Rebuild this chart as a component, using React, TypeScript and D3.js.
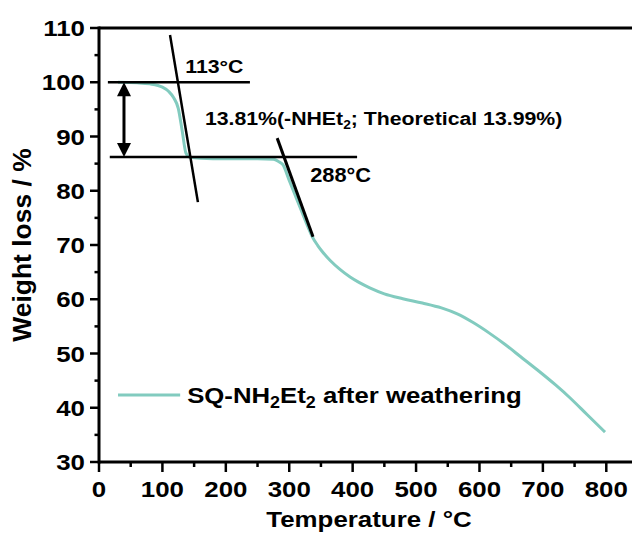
import React from 'react';
import * as d3 from 'd3';

// TGA curve
const temps = [30, 60, 80, 100, 110, 118, 125, 131, 137, 143, 160, 200, 250, 275, 283, 290, 300, 310, 320, 330, 336, 345, 352, 365, 380, 396, 410, 427, 450, 479, 510, 540, 565, 590, 615, 640, 665, 691, 720, 743, 770, 798];
const weights = [100, 99.9, 99.7, 99.1, 98.3, 97.1, 95.2, 91.2, 87.0, 86.2, 86.0, 85.9, 85.9, 85.8, 85.4, 84.8, 81.9, 79.0, 76.1, 73.2, 71.6, 69.9, 68.8, 67.1, 65.5, 64.1, 63.1, 62.1, 61.0, 60.1, 59.3, 58.4, 57.3, 55.7, 53.8, 51.7, 49.4, 47.0, 44.2, 41.8, 38.7, 35.5];

const xTicks = [0, 100, 200, 300, 400, 500, 600, 700, 800];
const yTicks = [30, 40, 50, 60, 70, 80, 90, 100, 110];
const xMinor = [50, 150, 250, 350, 450, 550, 650, 750];
const yMinor = [35, 45, 55, 65, 75, 85, 95, 105];

// annotation lines in data units [T1, W1, T2, W2]
const tangent1 = [112, 108.7, 156, 77.9];
const tangent2 = [281, 89.7, 337.5, 71.5];
const level100 = [14, 100, 238, 100];
const level86 = [17, 86.2, 407, 86.2];
const arrowT = 39.4;

const W = 632;
const H = 535;
const teal = '#82cbbf';
const font = "'Liberation Sans', Arial, sans-serif";

const App = () => {
  const x = d3.scaleLinear().domain([0, 850]).range([99, 638]);
  const y = d3.scaleLinear().domain([30, 110]).range([462, 28]);

  const line = d3.line<number>()
    .x((d, i) => x(temps[i]))
    .y(d => y(d))
    .curve(d3.curveMonotoneX);

  const seg = (s: number[], sw: number) => (
    <line x1={x(s[0])} y1={y(s[1])} x2={x(s[2])} y2={y(s[3])} stroke="#000" strokeWidth={sw} />
  );

  const ax = x(arrowT);
  const yTop = y(100);
  const yBot = y(86.2);

  return (
    <svg width={W} height={H} style={{ position: 'absolute', left: 0, top: 0 }} fontFamily={font} fontWeight="bold">
      <rect width={W} height={H} fill="#fff" />

      {/* curve */}
      <path d={line(weights) || ''} fill="none" stroke={teal} strokeWidth={3} />

      {/* annotations */}
      {seg(level100, 2.5)}
      {seg(level86, 2.5)}
      {seg(tangent1, 2.5)}
      {seg(tangent2, 3)}
      <line x1={ax} y1={yTop + 10} x2={ax} y2={yBot - 10} stroke="#000" strokeWidth={3} />
      <polygon points={`${ax},${yTop} ${ax - 7},${yTop + 14} ${ax + 7},${yTop + 14}`} fill="#000" />
      <polygon points={`${ax},${yBot} ${ax - 7},${yBot - 14} ${ax + 7},${yBot - 14}`} fill="#000" />

      <text transform={`translate(${x(136)},${y(101.7)}) scale(1.12,1)`} fontSize={19}>113°C</text>
      <text transform={`translate(${x(167)},${y(92.1)}) scale(1.15,1)`} fontSize={18.5}>
        13.81%(-NHEt<tspan fontSize={12} dy={4}>2</tspan><tspan dy={-4}>; Theoretical 13.99%)</tspan>
      </text>
      <text transform={`translate(${x(333)},${y(81.6)}) scale(1.12,1)`} fontSize={19.5}>288°C</text>

      {/* legend */}
      <line x1={x(30)} x2={x(128)} y1={y(42.35)} y2={y(42.35)} stroke={teal} strokeWidth={3} />
      <text transform={`translate(${x(139)},${y(40.9)}) scale(1.12,1)`} fontSize={23}>
        SQ-NH<tspan fontSize={16} dy={5}>2</tspan><tspan dy={-5}>Et</tspan><tspan fontSize={16} dy={5}>2</tspan><tspan dy={-5}> after weathering</tspan>
      </text>

      {/* frame */}
      <line x1={x(0)} x2={W} y1={y(110)} y2={y(110)} stroke="#000" strokeWidth={3} />
      <line x1={x(0)} x2={W} y1={y(30)} y2={y(30)} stroke="#000" strokeWidth={3} />
      <line x1={x(0)} x2={x(0)} y1={y(110) - 1.5} y2={y(30) + 1.5} stroke="#000" strokeWidth={3} />

      {/* y ticks */}
      {yTicks.map(t => (
        <g key={'y' + t}>
          <line x1={x(0) - 9} x2={x(0)} y1={y(t)} y2={y(t)} stroke="#000" strokeWidth={2.5} />
          <text transform={`translate(${x(0) - 14},${y(t) + 8}) scale(1.15,1)`} fontSize={22.5} textAnchor="end">{t}</text>
        </g>
      ))}
      {yMinor.map(t => (
        <line key={'ym' + t} x1={x(0) - 4.5} x2={x(0)} y1={y(t)} y2={y(t)} stroke="#000" strokeWidth={2.5} />
      ))}

      {/* x ticks */}
      {xTicks.map(t => (
        <g key={'x' + t}>
          <line x1={x(t)} x2={x(t)} y1={y(30)} y2={y(30) + 10} stroke="#000" strokeWidth={2.5} />
          <text transform={`translate(${x(t)},${y(30) + 35}) scale(1.15,1)`} fontSize={22.5} textAnchor="middle">{t}</text>
        </g>
      ))}
      {xMinor.map(t => (
        <line key={'xm' + t} x1={x(t)} x2={x(t)} y1={y(30)} y2={y(30) + 5} stroke="#000" strokeWidth={2.5} />
      ))}

      {/* axis titles */}
      <text transform={`translate(369,527) scale(1.15,1)`} fontSize={22.5} textAnchor="middle">Temperature / °C</text>
      <text transform={`translate(31,245) rotate(-90) scale(1.15,1.1)`} fontSize={23} textAnchor="middle">Weight loss / %</text>
    </svg>
  );
};

export default App;
